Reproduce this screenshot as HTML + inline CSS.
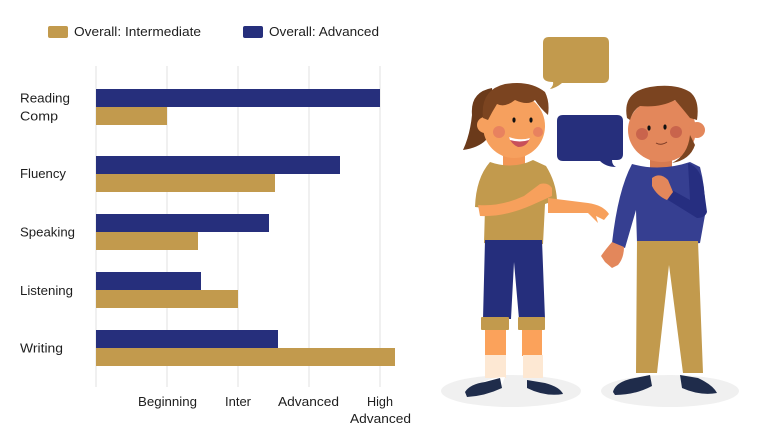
<!DOCTYPE html>
<html><head><meta charset="utf-8"><style>
html,body{margin:0;padding:0;background:#fff;}
svg{display:block;}
text{font-family:"Liberation Sans",sans-serif;fill:#1e1e1e;font-size:13px;}
</style></head><body>
<svg width="760" height="445" viewBox="0 0 760 445" xmlns="http://www.w3.org/2000/svg">
<rect width="760" height="445" fill="#fff"/>
<!-- legend -->
<rect x="48" y="26" width="20" height="12" rx="2" fill="#c29a4d"/>
<text x="74" y="36" textLength="127" lengthAdjust="spacingAndGlyphs">Overall: Intermediate</text>
<rect x="243" y="26" width="20" height="12" rx="2" fill="#262f7c"/>
<text x="269" y="36" textLength="110" lengthAdjust="spacingAndGlyphs">Overall: Advanced</text>
<!-- gridlines -->
<g stroke="#e6e6e6" stroke-width="1.2">
<line x1="96" y1="66" x2="96" y2="387"/>
<line x1="167" y1="66" x2="167" y2="387"/>
<line x1="238" y1="66" x2="238" y2="387"/>
<line x1="309" y1="66" x2="309" y2="387"/>
<line x1="380" y1="66" x2="380" y2="387"/>
</g>
<!-- bars -->
<g fill="#262f7c">
<rect x="96" y="89" width="284" height="18"/>
<rect x="96" y="156" width="244" height="18"/>
<rect x="96" y="214" width="173" height="18"/>
<rect x="96" y="272" width="105" height="18"/>
<rect x="96" y="330" width="182" height="18"/>
</g>
<g fill="#c29a4d">
<rect x="96" y="107" width="71" height="18"/>
<rect x="96" y="174" width="179" height="18"/>
<rect x="96" y="232" width="102" height="18"/>
<rect x="96" y="290" width="142" height="18"/>
<rect x="96" y="348" width="299" height="18"/>
</g>
<!-- category labels -->
<text x="20" y="102.5" textLength="50" lengthAdjust="spacingAndGlyphs">Reading</text>
<text x="20" y="120.5" textLength="38" lengthAdjust="spacingAndGlyphs">Comp</text>
<text x="20" y="178" textLength="46" lengthAdjust="spacingAndGlyphs">Fluency</text>
<text x="20" y="236.5" textLength="55" lengthAdjust="spacingAndGlyphs">Speaking</text>
<text x="20" y="295" textLength="53" lengthAdjust="spacingAndGlyphs">Listening</text>
<text x="20" y="352.5" textLength="43" lengthAdjust="spacingAndGlyphs">Writing</text>
<!-- tick labels -->
<text x="138" y="406" textLength="59" lengthAdjust="spacingAndGlyphs">Beginning</text>
<text x="225" y="406" textLength="26" lengthAdjust="spacingAndGlyphs">Inter</text>
<text x="278" y="406" textLength="61" lengthAdjust="spacingAndGlyphs">Advanced</text>
<text x="367" y="406" textLength="26" lengthAdjust="spacingAndGlyphs">High</text>
<text x="350" y="423" textLength="61" lengthAdjust="spacingAndGlyphs">Advanced</text>

<!-- illustration -->
<!-- shadows -->
<ellipse cx="511" cy="391" rx="70" ry="16" fill="#f0f0f0"/>
<ellipse cx="670" cy="391" rx="69" ry="16" fill="#f0f0f0"/>

<!-- speech bubbles -->
<path d="M549 37 L604 37 Q609 37 609 43 L609 77 Q609 83 603 83 L562 83 Q556 88 550 89 Q554 85 553 82 Q543 82 543 76 L543 43 Q543 37 549 37 Z" fill="#c29a4d"/>
<path d="M563 115 L617 115 Q623 115 623 121 L623 154 Q623 160 617 160 L612 160 Q612 165 616 167 Q606 167 600 161 L563 161 Q557 161 557 155 L557 121 Q557 115 563 115 Z" fill="#262f7c"/>

<!-- GIRL -->
<!-- ponytail -->
<path d="M492 88 Q470 92 472 115 Q470 135 463 150 Q478 148 486 140 Q492 130 494 110 Z" fill="#6b3a1a"/>
<!-- neck -->
<rect x="503" y="150" width="22" height="16" fill="#f29655"/>
<!-- face -->
<ellipse cx="514" cy="126" rx="31" ry="32" fill="#f6a05e"/>
<circle cx="485" cy="125" r="8" fill="#f6a05e"/>
<!-- hair -->
<path d="M483 118 Q480 90 505 84 Q530 80 545 92 Q550 102 548 115 Q540 108 535 100 Q528 106 515 100 Q505 108 497 104 Q492 112 488 120 Z" fill="#7b4420"/>
<!-- cheeks -->
<circle cx="499" cy="132" r="6" fill="#e8825f"/>
<circle cx="538" cy="132" r="5" fill="#e8825f"/>
<!-- eyes -->
<ellipse cx="514" cy="120" rx="1.6" ry="2.6" fill="#111"/>
<ellipse cx="531" cy="120" rx="1.6" ry="2.6" fill="#111"/>
<!-- mouth -->
<path d="M509 137 Q520 142 530 138 Q527 147 518 147 Q511 144 509 137 Z" fill="#c8505a"/>
<path d="M509 137 Q520 141 530 138 L529 140 Q520 143 510 140 Z" fill="#fff"/>
<!-- shirt -->
<path d="M490 162 Q513 170 533 160 L546 166 Q556 182 557 200 L545 204 L543 244 Q513 249 484 243 L485 208 L475 207 Q476 178 490 162 Z" fill="#c29a4d"/>
<!-- arm across chest -->
<path d="M478 205 Q500 207 524 196 L540 184 Q548 182 552 188 L552 196 L532 205 Q505 217 480 216 Z" fill="#f7a05c"/>
<!-- extended arm -->
<path d="M548 198 L588 203 Q603 205 609 214 L604 220 L596 216 L598 223 L588 213 L548 213 Z" fill="#f7a05c"/>
<!-- pants -->
<path d="M485 240 L542 240 L545 319 L519 319 L514 262 L511 319 L483 319 Z" fill="#252e7c"/>
<!-- cuffs -->
<rect x="481" y="317" width="28" height="13" rx="1" fill="#c29a4d"/>
<rect x="518" y="317" width="27" height="13" rx="1" fill="#c29a4d"/>
<!-- legs -->
<rect x="485" y="330" width="21" height="26" fill="#fba25b"/>
<rect x="522" y="330" width="20" height="26" fill="#fba25b"/>
<!-- socks -->
<rect x="485" y="355" width="21" height="23" fill="#fde8d3"/>
<rect x="523" y="355" width="20" height="23" fill="#fde8d3"/>
<path d="M478 385 Q490 377 505 377 L502 385 Z" fill="#fff"/>
<!-- shoes -->
<path d="M465 392 Q470 384 485 382 L500 378 L502 388 Q485 396 467 397 Z" fill="#1f2c4b"/>
<path d="M527 380 L545 383 Q560 387 563 394 Q545 397 527 388 Z" fill="#1f2c4b"/>

<!-- BOY -->
<!-- neck -->
<rect x="650" y="152" width="22" height="16" fill="#d67a50"/>
<!-- face -->
<ellipse cx="662" cy="130" rx="34" ry="32" fill="#e3875b"/>
<circle cx="697" cy="130" r="8" fill="#e3875b"/>
<path d="M690 135 Q688 155 672 163 Q690 160 695 145 Z" fill="#7b4420"/>
<!-- hair -->
<path d="M627 118 Q622 92 650 87 Q675 83 690 92 Q700 100 697 120 L690 118 Q682 108 675 100 Q660 108 640 106 Q633 110 630 120 Z" fill="#7b4420"/>
<!-- cheeks -->
<circle cx="642" cy="134" r="6" fill="#c9644c"/>
<circle cx="676" cy="132" r="6" fill="#c9644c"/>
<!-- eyes -->
<ellipse cx="649" cy="128" rx="1.6" ry="2.6" fill="#111"/>
<ellipse cx="665" cy="127" rx="1.6" ry="2.6" fill="#111"/>
<path d="M656 143 Q661 146 667 142" stroke="#7a3a25" stroke-width="1" fill="none"/>
<!-- shirt -->
<path d="M632 164 Q660 172 690 162 L700 167 Q706 190 705 215 L700 243 Q667 248 637 243 L636 210 L625 248 L612 243 Q618 190 632 164 Z" fill="#363f91"/>
<!-- right sleeve -->
<path d="M688 163 Q702 168 704 190 L707 212 Q705 218 697 218 L668 200 L672 190 L690 200 Z" fill="#262e80"/>
<!-- hand on chest -->
<path d="M652 178 Q660 172 668 180 L673 192 L667 200 Q657 196 652 186 Z" fill="#e3875b"/>
<!-- left hand hanging -->
<path d="M612 242 L624 247 Q624 258 618 265 L612 268 L605 262 L601 256 Q605 250 612 242 Z" fill="#e3875b"/>
<!-- pants -->
<path d="M637 241 L698 241 L703 373 L683 373 L669 265 L657 373 L636 373 Z" fill="#c29a4d"/>
<!-- shoes -->
<path d="M613 392 Q615 383 630 379 L650 375 L652 386 Q635 395 615 395 Z" fill="#1f2c4b"/>
<path d="M680 375 L698 378 Q713 385 717 393 Q700 396 682 388 Z" fill="#1f2c4b"/>
</svg>
</body></html>
